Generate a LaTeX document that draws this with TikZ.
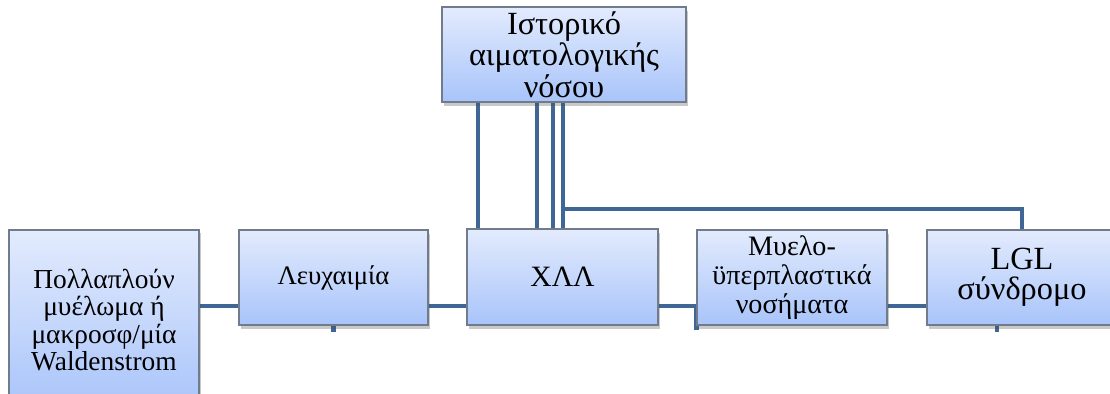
\documentclass[tikz,border=0pt]{standalone}
\usepackage{fontspec}
\setmainfont{Liberation Serif}
\usetikzlibrary{shadows,backgrounds}
\definecolor{boxtop}{HTML}{E3EBFD}
\definecolor{boxbot}{HTML}{A8C4FA}
\definecolor{boxline}{HTML}{707C8C}
\definecolor{linkblue}{HTML}{3F6695}
\tikzset{
  box/.style={draw=boxline, line width=0.8pt, top color=boxtop, bottom color=boxbot,
    align=center, inner sep=0pt,
    drop shadow={shadow xshift=1.2pt, shadow yshift=-2.5pt, opacity=0.3, fill=black!70}},
  link/.style={linkblue, line width=3.2pt},
}

\begin{document}
\begin{tikzpicture}[x=0.025cm, y=-0.025cm]
        \clip (0,0) rectangle (1110,394);
        % Boxes
        \node[box, minimum width=6.1cm, minimum height=2.375cm, font=\fontsize{23}{22.4}\selectfont] (hist) at (564,54.5) {Ιστορικό\\αιματολογικής\\νόσου};
        \node[box, minimum width=4.75cm, minimum height=4.5cm, font=\fontsize{19.5}{19.4}\selectfont] (myel) at (104,320) {Πολλαπλούν\\μυέλωμα ή\\μακροσφ/μία\\Waldenstrom};
        \node[box, minimum width=4.725cm, minimum height=2.375cm, font=\fontsize{19}{22}\selectfont] (leuk) at (333.5,277.5) {Λευχαιμία};
        \node[box, minimum width=4.775cm, minimum height=2.4cm, font=\fontsize{21}{22}\selectfont] (xll) at (562.5,277) {ΧΛΛ};
        \node[box, minimum width=4.75cm, minimum height=2.375cm, font=\fontsize{20}{20.6}\selectfont] (mpn) at (792,277.5) {Μυελο-\\ϋπερπλαστικά\\νοσήματα};
        \node[box, minimum width=4.75cm, minimum height=2.375cm, font=\fontsize{23}{21.3}\selectfont] (lgl) at (1022,277.5) {LGL\\σύνδρομο};

        % Links
        \begin{scope}[on background layer]
        \draw[link] (myel.east |- 0,306) -- (leuk.west |- 0,306);
        \draw[link] (leuk.east |- 0,306) -- (xll.west |- 0,306);
        \draw[link] (leuk.south) -- ++(0,6);
        \draw[link] (xll.east |- 0,306) -- (mpn.west |- 0,306) -- (mpn.west |- 0,330);
        \draw[link] (mpn.east |- 0,306) -- (lgl.west |- 0,306);
        \draw[link] (lgl.south -| 997,0) -- ++(0,6);
        % from the top box down to XLL
        \draw[link] (hist.south -| 478,0) -- (xll.north -| 478,0);
        \draw[link] (hist.south -| 537,0) -- (xll.north -| 537,0);
        \draw[link] (hist.south -| 553,0) -- (xll.north -| 553,0);
        \draw[link] (hist.south -| 563,0) -- (xll.north -| 563,0);
        \draw[link] (hist.south -| 563,0) -- (563,209) -- (lgl.north |- 0,209) -- (lgl.north);
        \end{scope}
\end{tikzpicture}
\end{document}
